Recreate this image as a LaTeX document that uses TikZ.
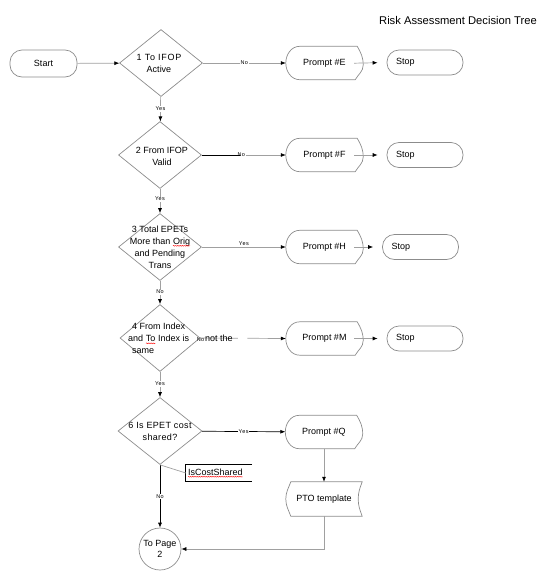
\documentclass[tikz,border=0pt]{standalone}
\usepackage{fontspec}
\setmainfont{Liberation Sans}
\usetikzlibrary{shapes.geometric,arrows.meta,decorations.pathmorphing,calc}
\definecolor{shapegray}{HTML}{8C8C8C}
\definecolor{linegray}{HTML}{A0A0A0}
\newcommand\spell[1]{\tikz[baseline=(sp.base),x=1cm,y=1cm]{\node[inner sep=0pt,outer sep=0pt,draw=none,fill=none,shape=rectangle,anchor=center,minimum size=0pt](sp){#1};\draw[red,line width=0.35pt,decorate,decoration={snake,amplitude=0.45pt,segment length=1.8pt}]([yshift=-1.6pt]sp.base west)--([yshift=-1.6pt]sp.base east);}}
\newcommand\promptpath[1]{\draw[shp] ($(#1.north west)+(14,0)$) -- ($(#1.north east)+(-6,0)$) to[out=-60,in=90] ($(#1.east)+(0,2)$) to[out=-90,in=60] ($(#1.south east)+(-8,0)$) -- ($(#1.south west)+(14,0)$) to[out=180,in=-90] (#1.west) to[out=90,in=180] cycle;}
\begin{document}
\begin{tikzpicture}[x=1pt,y=-1pt,
  shp/.style={draw=shapegray,line width=0.7pt},
  term/.style={shp,rectangle,rounded corners=12pt,minimum width=76pt,minimum height=25pt,inner sep=0pt,font=\fontsize{9}{11}\selectfont},
  dia/.style={shp,diamond,minimum width=83pt,minimum height=67pt,inner sep=0pt},
  dtext/.style={font=\fontsize{9}{12}\selectfont,align=center,inner sep=0pt},
  prm/.style={rectangle,minimum width=77pt,minimum height=33pt,inner sep=0pt,font=\fontsize{9}{11}\selectfont},
  conn/.style={draw=linegray,line width=0.7pt,-{Latex[length=5pt,width=4pt,color=black]}},
  conndark/.style={draw=black,line width=0.7pt,-{Latex[length=5pt,width=4pt,color=black]}},
  plain/.style={draw=linegray,line width=0.7pt},
  lab/.style={font=\fontsize{5.5}{6}\selectfont\addfontfeature{LetterSpace=8},fill=white,inner sep=0.6pt},
]
\useasboundingbox (0,0) rectangle (542,579);

% title
\node[font=\fontsize{11.2}{13}\selectfont] (title) at (458,20) {Risk Assessment Decision Tree};

% start
\node[term,minimum width=67pt,minimum height=27pt] (start) at (43.5,63.5) {Start};

% diamonds
\node[dia] (d1) at (161,63) {};
\node[dia] (d2) at (160,155) {};
\node[dia] (d3) at (160,247) {};
\node[dia,minimum width=80pt] (d4) at (160,338) {};
\node[dia,minimum width=84pt] (d6) at (160,431) {};

% prompts
\node[prm] (pE) at (324.5,63) {Prompt \#E};
\node[prm] (pF) at (324.5,155) {Prompt \#F};
\node[prm] (pH) at (324.5,247) {Prompt \#H};
\node[prm] (pM) at (324.5,338.5) {Prompt \#M};
\node[prm] (pQ) at (324,432) {Prompt \#Q};
\foreach \p in {pE,pF,pH,pM,pQ} {\promptpath{\p}}

% stops
\node[term] (sE) at (425,62.5) {\makebox[58pt][l]{Stop}};
\node[term] (sF) at (425,155) {\makebox[58pt][l]{Stop}};
\node[term] (sH) at (420.5,247) {\makebox[58pt][l]{Stop}};
\node[term] (sM) at (425,338.5) {\makebox[58pt][l]{Stop}};

% PTO template
\node[prm,minimum width=76pt,minimum height=34pt] (pto) at (324,499) {PTO template};
\draw[shp] ($(pto.north west)+(5,0)$) -- (pto.north east) to[out=-110,in=90] ($(pto.east)+(-4,0)$) to[out=-90,in=110] (pto.south east) -- ($(pto.south west)+(5,0)$) to[out=110,in=-90] (pto.west) to[out=90,in=-110] cycle;

% connector circle
\node[shp,circle,minimum size=42pt,inner sep=0pt,align=center,font=\fontsize{9}{11}\selectfont] (cir) at (160,549) {To Page\\2};

% IsCostShared box
\node[rectangle,minimum width=66pt,minimum height=16pt,inner sep=0pt,font=\fontsize{9}{11}\selectfont] (ics) at (219,473) {\makebox[62pt][l]{\spell{IsCostShared}}};
\draw[black,line width=0.7pt] (ics.north east) -- (ics.north west) -- (ics.south west) -- (ics.south east);

% connectors
\draw[conn] (start) -- (d1);
\draw[conn] (d1) -- node[lab]{No} (pE);
\path (d2.east) -- coordinate[pos=0.45] (d2m) (pF.west);
\draw[conn] (d2) -- node[lab,pos=0.47]{No} (pF);
\draw[black,line width=0.7pt] (d2.east) -- (d2m);
\draw[conn] (d3) -- node[lab,pos=0.5,yshift=3pt]{Yes} (pH);
\path (d4.east) -- coordinate[pos=0.44] (d4a) coordinate[pos=0.55] (d4b) (pM.west);
\draw[plain] (d4.east) -- (d4a);
\draw[conn] (d4b) -- (pM.west);
\draw[conndark] (d6) -- node[lab]{Yes} (pQ);

\foreach \a/\b in {pE/sE,pF/sF,pH/sH,pM/sM}
  \draw[conn,shorten <=-9pt,shorten >=9pt] (\a.east) -- (\b.west);

\draw[conn] (d1) -- node[lab]{Yes} (d2);
\draw[conn] (d2) -- node[lab,pos=0.42]{Yes} (d3);
\draw[conn] (d3) -- node[lab,pos=0.48]{No} (d4);
\draw[conn] (d4) -- node[lab,pos=0.48]{Yes} (d6);

\draw[conn] (pQ) -- (pto);
\draw[conn] (pto.south) |- (cir.east);
\draw[conndark] (d6.south) -- node[lab]{No} (cir.north);
\draw[plain] (d6.south) -- (ics.west);

% diamond texts
\node[dtext] (t1) at (159,63) {{\addfontfeature{LetterSpace=8}1 To IFOP}\\Active};
\node[dtext] (t2) at (162,156) {2 From IFOP\\Valid};
\node[dtext] (t3) at (160,247) {3 Total EPETs\\More than \spell{Orig}\\and Pending\\Trans};
\node[dtext,align=left,anchor=west] (t4) at (128,338.5) {\hspace*{4pt}4 From Index\\and \spell{To} Index is\hspace{16pt}not the\\\hspace*{4pt}same};
\node[lab,fill=none] (no4) at (200.5,339.5) {No};
\node[dtext,font=\fontsize{9}{11.5}\selectfont\addfontfeature{LetterSpace=4}] (t6) at (160,431.5) {6 Is EPET cost\\shared?};
\end{tikzpicture}
\end{document}
